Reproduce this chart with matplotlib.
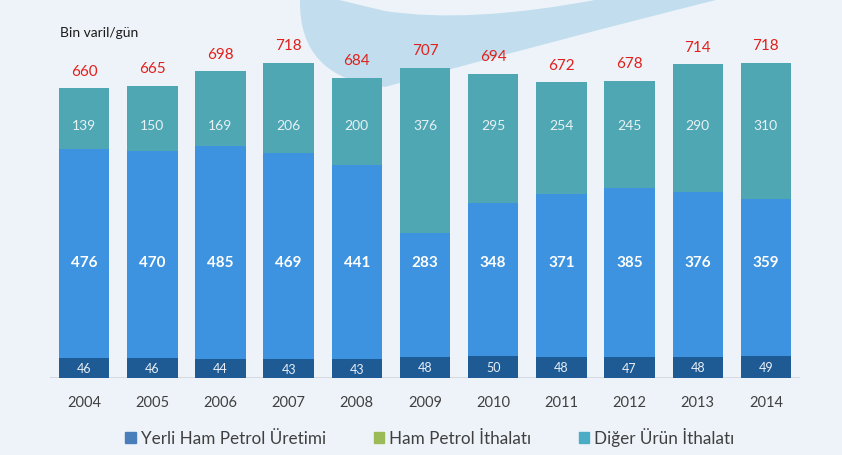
import numpy as np
import matplotlib.pyplot as plt
from matplotlib.patches import Patch, PathPatch
from matplotlib.path import Path

plt.rcParams['font.family'] = ['Lato', 'DejaVu Sans']

# veriler (bin varil/gün)
yillar = ['2004', '2005', '2006', '2007', '2008', '2009', '2010', '2011', '2012', '2013', '2014']
yerli = [46, 46, 44, 43, 43, 48, 50, 48, 47, 48, 49]
ham_ithal = [476, 470, 485, 469, 441, 283, 348, 371, 385, 376, 359]
diger_ithal = [139, 150, 169, 206, 200, 376, 295, 254, 245, 290, 310]
toplam = [660, 665, 698, 718, 684, 707, 694, 672, 678, 714, 718]

c_yerli = '#1E5B94'
c_ham = '#3D93DF'
c_diger = '#4FA7B4'

fig = plt.figure(figsize=(8.42, 4.56), dpi=100)
fig.patch.set_facecolor('#EEF3F9')

# arka plandaki dekoratif kavis
bg = fig.add_axes([0, 0, 1, 1], zorder=0)
bg.set_xlim(0, 842)
bg.set_ylim(456, 0)
bg.axis('off')
verts = [(300, 0), (298, 80), (385, 88), (560, 40), (720, 0),
         (600, 0), (470, 25), (385, 12), (335, 0), (300, 0)]
codes = [Path.MOVETO, Path.CURVE3, Path.CURVE3, Path.CURVE3, Path.CURVE3,
         Path.LINETO, Path.CURVE3, Path.CURVE3, Path.LINETO, Path.CLOSEPOLY]
bg.add_patch(PathPatch(Path(verts, codes), facecolor='#C2DEEE', edgecolor='none'))

ax = fig.add_axes([50/842, 77/456, 750/842, 379/456], zorder=1)
ax.patch.set_alpha(0)

x = np.arange(len(yillar))
w = 0.74
b1 = np.array(yerli)
b2 = b1 + np.array(ham_ithal)

ax.bar(x, yerli, w, color=c_yerli, zorder=2)
ax.bar(x, ham_ithal, w, bottom=b1, color=c_ham, zorder=2)
ax.bar(x, diger_ithal, w, bottom=b2, color=c_diger, zorder=2)

for i in range(len(yillar)):
    ax.text(x[i], yerli[i] / 2, str(yerli[i]), ha='center', va='center',
            color='#E8EEF5', fontsize=9, zorder=3)
    ax.text(x[i], 264, str(ham_ithal[i]), ha='center', va='center',
            color='white', fontsize=11, fontweight='bold', zorder=3)
    ax.text(x[i], 576, str(diger_ithal[i]), ha='center', va='center',
            color='#E8F2F4', fontsize=10, zorder=3)
    ax.text(x[i], toplam[i] + 40, str(toplam[i]), ha='center', va='center',
            color='#E0201B', fontsize=11, zorder=3)

ax.axhline(0, color='#D0D6DE', lw=1.2, zorder=1)
ax.set_xlim(-0.5, len(yillar) - 0.5)
ax.set_ylim(0, 863)
ax.set_xticks(x)
ax.set_xticklabels(yillar, fontsize=10.5, color='#404040')
ax.tick_params(axis='x', length=0, pad=12)
ax.set_yticks([])
for s in ax.spines.values():
    s.set_visible(False)

fig.text(60/842, 1 - 33/456, 'Bin varil/gün', fontsize=10, color='#1A1A1A',
         va='center', ha='left')

handles = [Patch(color='#4A7EBB', label='Yerli Ham Petrol Üretimi'),
           Patch(color='#9BBB59', label='Ham Petrol İthalatı'),
           Patch(color='#4BACC6', label='Diğer Ürün İthalatı')]
fig.legend(handles=handles, loc='center', bbox_to_anchor=(430/842, 1 - 438/456),
           ncol=3, frameon=False, fontsize=12.3, handlelength=0.6,
           handleheight=0.6, handletextpad=0.3, columnspacing=2.8,
           labelcolor='#404040')

fig.savefig('out.png', dpi=100, facecolor=fig.get_facecolor())
